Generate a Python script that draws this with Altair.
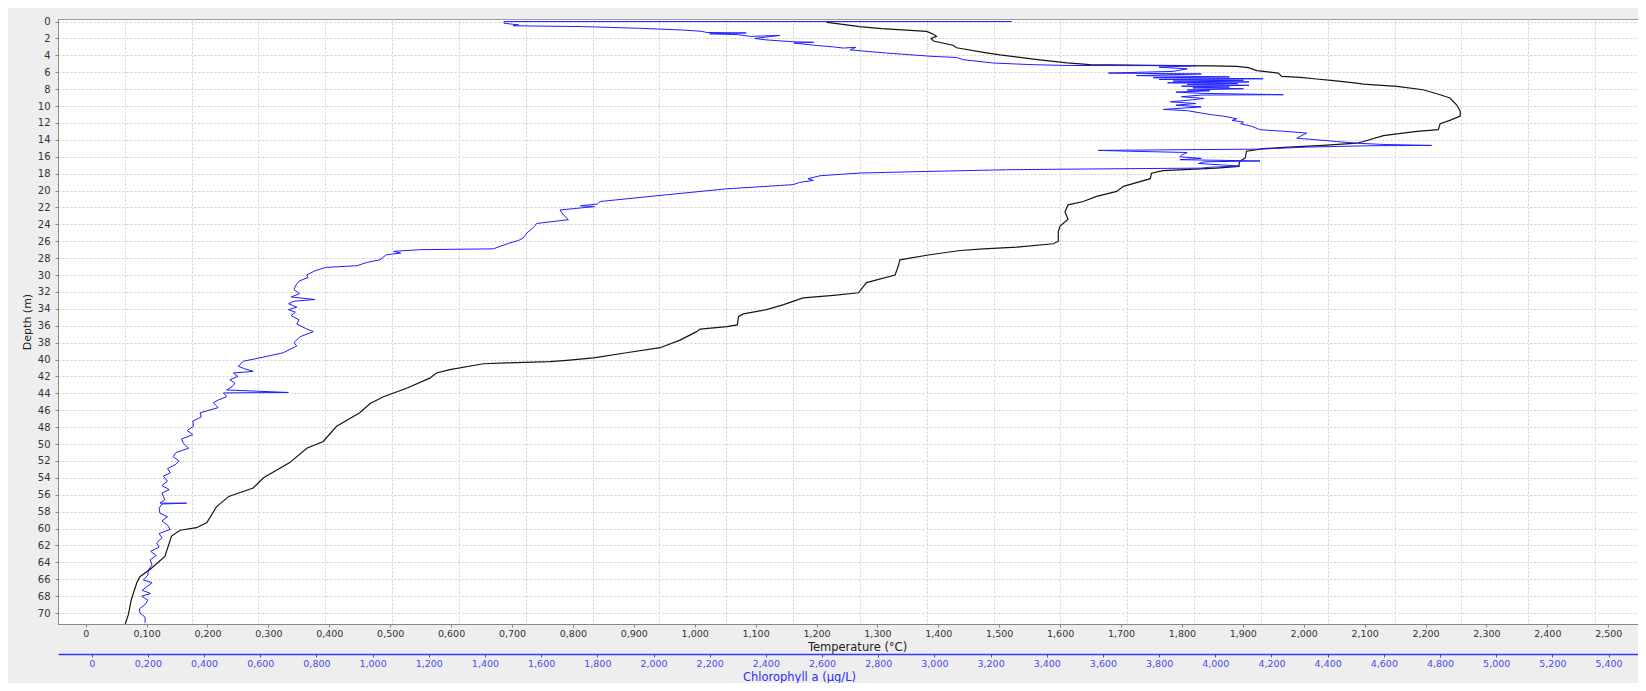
import altair as alt
import pandas as pd

# ---- Temperature profile (black) ----
temp_depth = [0.0, 0.1, 0.6, 0.85, 1.17, 1.5, 1.75, 2.0, 2.3, 2.8, 3.1, 3.7, 3.95, 4.45, 4.9, 5.1,
              5.2, 5.25, 5.3, 5.45, 5.8, 6.1, 6.5, 6.6, 6.8, 7.0, 7.28, 7.4, 7.68, 8.07, 8.66, 9.05,
              9.85, 10.6, 11.2, 11.7, 12.1, 12.8, 13.0, 13.2, 13.5, 14.2, 14.4, 14.65, 14.9, 15.05,
              15.35, 16.15, 16.55, 17.15, 17.35, 17.65, 17.95, 18.6, 19.5, 20.1, 20.7, 21.3, 21.7,
              22.5, 23.4, 24.2, 24.85, 26.0, 26.3, 26.7, 26.9, 27.1, 27.6, 28.2, 29.0, 30.0, 30.9,
              32.1, 32.4, 32.7, 33.5, 34.1, 34.6, 34.9, 35.9, 36.1, 36.4, 36.7, 37.7, 38.6, 39.2,
              39.8, 40.1, 40.25, 40.4, 40.5, 41.2, 41.6, 42.2, 43.4, 44.4, 45.2, 46.3, 47.9, 49.7,
              50.5, 52.2, 54.0, 55.2, 56.2, 57.4, 59.3, 59.9, 60.2, 60.9, 63.3, 64.7, 65.7, 66.4,
              68.4, 70.2, 71.3]
temp_value = [1.216, 1.218, 1.271, 1.307, 1.381, 1.392, 1.397, 1.388, 1.392, 1.424, 1.430, 1.479,
              1.501, 1.556, 1.611, 1.649, 1.750, 1.850, 1.890, 1.909, 1.923, 1.958, 1.964, 1.994,
              2.021, 2.049, 2.087, 2.098, 2.153, 2.196, 2.224, 2.240, 2.251, 2.257, 2.257, 2.240,
              2.224, 2.221, 2.186, 2.163, 2.131, 2.098, 2.087, 2.032, 1.967, 1.934, 1.906, 1.904,
              1.895, 1.893, 1.857, 1.769, 1.750, 1.748, 1.704, 1.693, 1.660, 1.638, 1.613, 1.608,
              1.613, 1.600, 1.597, 1.597, 1.589, 1.529, 1.474, 1.436, 1.386, 1.337, 1.334, 1.329,
              1.282, 1.269, 1.228, 1.178, 1.146, 1.118, 1.080, 1.072, 1.070, 1.053, 1.009, 1.003,
              0.976, 0.943, 0.888, 0.834, 0.790, 0.762, 0.691, 0.653, 0.598, 0.576, 0.565, 0.527,
              0.489, 0.467, 0.450, 0.412, 0.390, 0.363, 0.335, 0.292, 0.275, 0.235, 0.215, 0.199,
              0.182, 0.155, 0.141, 0.130, 0.108, 0.089, 0.084, 0.075, 0.070, 0.065]

# ---- Chlorophyll a profile (blue) ----
chl_depth = [0.0, 0.0, 0.2, 0.4, 0.5, 0.6, 0.8, 1.0, 1.15, 1.3, 1.35, 1.45, 1.55, 1.76, 1.64, 2.0,
             2.17, 2.4, 2.45, 2.55, 2.83, 3.0, 3.14, 3.05, 3.35, 3.5, 3.73, 3.93, 4.13, 4.25, 4.52,
             4.91, 5.11, 5.2, 5.23, 5.4, 5.6, 5.9, 6.1, 6.2, 6.4, 6.55, 6.65, 6.77, 6.85, 6.95,
             7.05, 7.15, 7.25, 7.35, 7.45, 7.55, 7.65, 7.75, 7.85, 7.95, 8.1, 8.2, 8.35, 8.5, 8.66,
             8.7, 8.9, 9.1, 9.26, 9.5, 9.7, 9.9, 10.1, 10.4, 10.55, 10.8, 11.0, 11.2, 11.5, 11.7,
             11.9, 12.1, 12.4, 12.8, 13.0, 13.2, 13.8, 14.2, 14.4, 14.55, 14.66, 14.7, 14.86, 15.1,
             15.2, 15.25, 15.35, 15.5, 15.8, 16.0, 16.2, 16.35, 16.5, 16.6, 16.8, 17.1, 17.25,
             17.35, 17.45, 17.54, 17.74, 17.93, 18.25, 18.6, 18.8, 19.04, 19.3, 19.8, 20.5, 21.3,
             21.6, 21.8, 21.9, 22.3, 22.9, 23.45, 23.9, 24.4, 25.0, 25.6, 25.9, 26.2, 26.6, 26.9,
             27.0, 27.2, 27.4, 27.6, 28.2, 28.5, 28.9, 29.1, 29.5, 30.0, 30.3, 30.7, 31.2, 31.7,
             32.2, 32.6, 32.9, 33.1, 33.4, 33.8, 34.1, 34.4, 34.8, 35.3, 35.8, 36.3, 36.7, 37.3,
             38.0, 38.4, 39.2, 39.8, 40.2, 40.8, 41.1, 41.4, 41.6, 42.0, 42.4, 42.8, 43.2, 43.6,
             43.9, 43.95, 44.4, 44.8, 45.1, 45.7, 46.3, 46.8, 47.3, 47.9, 48.4, 48.9, 49.4, 49.9,
             50.5, 51.0, 51.5, 52.0, 52.4, 52.9, 53.4, 53.8, 54.4, 54.9, 55.4, 55.8, 56.2, 56.6,
             57.0, 57.0, 57.1, 57.6, 58.2, 58.6, 59.1, 59.6, 60.1, 60.6, 61.1, 61.7, 62.2, 62.7,
             63.2, 63.7, 64.3, 64.9, 65.5, 66.1, 66.4, 66.8, 67.3, 67.7, 68.0, 68.5, 69.0, 69.5,
             70.0, 70.5, 71.2]
chl_value = [3.275, 1.468, 1.468, 1.52, 1.50, 1.75, 1.95, 2.10, 2.17, 2.19, 2.33, 2.20, 2.30, 2.344,
             2.45, 2.36, 2.40, 2.50, 2.57, 2.50, 2.58, 2.64, 2.676, 2.72, 2.70, 2.75, 2.83, 2.913,
             2.996, 3.079, 3.103, 3.21, 3.352, 3.471, 3.93, 3.80, 3.90, 3.85, 3.62, 3.95, 3.72,
             4.05, 3.78, 4.17, 3.80, 4.10, 3.85, 4.12, 3.83, 4.08, 3.90, 4.12, 3.88, 4.05, 3.92,
             4.10, 3.90, 3.98, 3.86, 3.95, 4.242, 3.95, 3.88, 3.96, 3.92, 3.84, 3.93, 3.86, 3.95,
             3.815, 3.90, 3.946, 3.98, 4.03, 4.076, 4.06, 4.10, 4.09, 4.13, 4.159, 4.25, 4.325,
             4.29, 4.432, 4.503, 4.60, 4.77, 4.55, 4.325, 4.159, 3.768, 3.583, 3.70, 3.90, 3.88,
             3.874, 3.95, 3.874, 4.159, 3.96, 3.94, 4.088, 3.98, 3.95, 3.55, 3.257, 2.973, 2.735,
             2.593, 2.55, 2.569, 2.52, 2.498, 2.26, 2.047, 1.81, 1.80, 1.74, 1.79, 1.667, 1.68,
             1.697, 1.584, 1.572, 1.55, 1.536, 1.52, 1.489, 1.454, 1.43, 1.169, 1.075, 1.10, 1.049,
             1.026, 0.981, 0.944, 0.832, 0.795, 0.765, 0.77, 0.739, 0.727, 0.72, 0.74, 0.71, 0.795,
             0.72, 0.701, 0.73, 0.70, 0.725, 0.71, 0.738, 0.73, 0.76, 0.789, 0.742, 0.72, 0.73,
             0.682, 0.599, 0.540, 0.522, 0.545, 0.575, 0.504, 0.52, 0.492, 0.51, 0.50, 0.48, 0.700,
             0.469, 0.48, 0.45, 0.433, 0.45, 0.386, 0.39, 0.36, 0.362, 0.34, 0.36, 0.32, 0.326,
             0.345, 0.30, 0.290, 0.31, 0.30, 0.27, 0.28, 0.255, 0.27, 0.25, 0.276, 0.25, 0.255,
             0.26, 0.243, 0.338, 0.25, 0.24, 0.243, 0.27, 0.25, 0.27, 0.279, 0.24, 0.25, 0.231,
             0.24, 0.21, 0.23, 0.208, 0.215, 0.202, 0.20, 0.184, 0.215, 0.20, 0.18, 0.21, 0.178,
             0.20, 0.19, 0.17, 0.172, 0.19, 0.190]

# ---- Axis tick values ----
depth_ticks = [0, 2, 4, 6, 8, 10, 12, 14, 16, 18, 20, 22, 24, 26, 28, 30, 32, 34, 36, 38, 40, 42,
               44, 46, 48, 50, 52, 54, 56, 58, 60, 62, 64, 66, 68, 70]
temp_ticks = [0, 0.1, 0.2, 0.3, 0.4, 0.5, 0.6, 0.7, 0.8, 0.9, 1.0, 1.1, 1.2, 1.3, 1.4, 1.5, 1.6,
              1.7, 1.8, 1.9, 2.0, 2.1, 2.2, 2.3, 2.4, 2.5]
chl_ticks = [0, 0.2, 0.4, 0.6, 0.8, 1.0, 1.2, 1.4, 1.6, 1.8, 2.0, 2.2, 2.4, 2.6, 2.8, 3.0, 3.2,
             3.4, 3.6, 3.8, 4.0, 4.2, 4.4, 4.6, 4.8, 5.0, 5.2, 5.4]
grid_lines = [1, 2, 3, 4, 5, 6, 7, 8, 9, 10, 11, 12, 13, 14, 15, 16, 17, 18, 19, 20, 21, 22, 23]

temp_df = pd.DataFrame({"i": range(len(temp_depth)), "depth": temp_depth, "temp": temp_value})
chl_df = pd.DataFrame({"i": range(len(chl_depth)), "depth": chl_depth, "chl": chl_value})
grid_df = pd.DataFrame({"g": grid_lines})

FONT = "DejaVu Sans"
W, H = 1580, 605
label_expr = "datum.value == 0 ? '0' : replace(format(datum.value, '.3f'), '.', ',')"

depth_scale = alt.Scale(domain=[-0.3, 71.3], reverse=True, nice=False, zero=False)
depth_axis = alt.Axis(
    values=depth_ticks, title="Depth (m)", grid=True, gridDash=[2, 2], gridColor="#cfcfcf",
    labelFont=FONT, labelFontSize=10, labelColor="#333333", tickColor="#888888", tickSize=3,
    labelPadding=5, domainColor="#888888", titleFont=FONT, titleFontSize=11,
    titleFontWeight="normal", titleColor="#222222", titleX=-31, titleBaseline="middle",
)

grid_layer = alt.Chart(grid_df).mark_point(opacity=0).encode(
    x=alt.X(
        "g:Q",
        scale=alt.Scale(domain=[0, W / 66.83], nice=False, zero=False),
        axis=alt.Axis(orient="top", values=grid_lines, grid=True, gridDash=[2, 2],
                      gridColor="#cfcfcf", labels=False, ticks=False, domain=False, title=""),
    )
)

temp_layer = alt.Chart(temp_df).mark_line(color="#151515", strokeWidth=1.2).encode(
    x=alt.X(
        "temp:Q",
        scale=alt.Scale(domain=[-0.04548, 2.5489], nice=False, zero=False),
        axis=alt.Axis(
            orient="bottom", values=temp_ticks, labelExpr=label_expr, grid=False,
            title="Temperature (°C)", labelFont=FONT, labelFontSize=9.5, labelColor="#333333",
            tickColor="#888888", tickSize=3, labelPadding=1, domainColor="#888888",
            titleFont=FONT, titleFontSize=11.5, titleFontWeight="normal", titleColor="#222222",
            titleX=799, titleY=23, titleBaseline="middle",
        ),
    ),
    y=alt.Y("depth:Q", scale=depth_scale, axis=depth_axis),
    order="i:Q",
)

chl_layer = alt.Chart(chl_df).mark_line(color="#1f1fff", strokeWidth=1.0).encode(
    x=alt.X(
        "chl:Q",
        scale=alt.Scale(domain=[-0.11997, 5.5048], nice=False, zero=False),
        axis=alt.Axis(
            orient="bottom", offset=30, values=chl_ticks, labelExpr=label_expr, grid=False,
            title="Chlorophyll a (µg/L)", labelFont=FONT, labelFontSize=9.5,
            labelColor="#4a4ae6", tickColor="#4a4aff", tickSize=3, labelPadding=1,
            domainColor="#3535ff", domainWidth=1.5, titleFont=FONT, titleFontSize=11.5,
            titleFontWeight="normal", titleColor="#2b2bff", titleX=741, titleY=23,
            titleBaseline="middle",
        ),
    ),
    y=alt.Y("depth:Q", scale=depth_scale, axis=depth_axis),
    order="i:Q",
)

chart = (
    alt.layer(grid_layer, temp_layer, chl_layer)
    .resolve_scale(x="independent")
    .properties(
        width=W, height=H,
        autosize=alt.AutoSizeParams(type="none"),
        padding={"left": 50, "top": 11, "right": 0, "bottom": 59},
        background="#eeeeee",
    )
    .configure_view(fill="white", stroke="#9a9a9a")
)

chart.save("out.html", embed_options={"renderer": "svg", "actions": False})
